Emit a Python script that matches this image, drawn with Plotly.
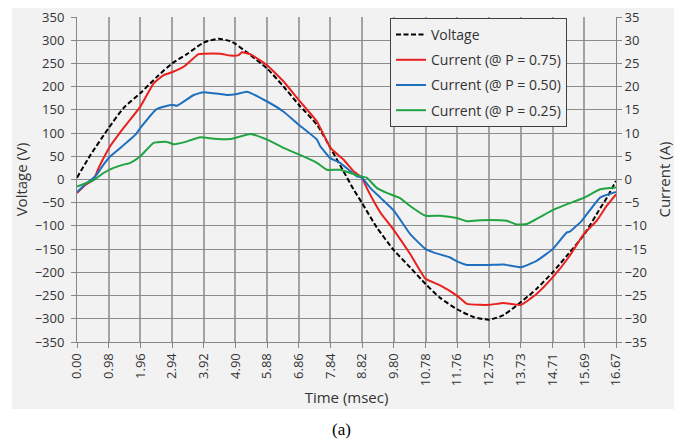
import plotly.graph_objects as go

# ---------------- data ----------------
tick_labels = ["0.00", "0.98", "1.96", "2.94", "3.92", "4.90", "5.88", "6.86", "7.84",
               "8.82", "9.80", "10.78", "11.76", "12.75", "13.73", "14.71", "15.69", "16.67"]

t_voltage = [0.00, 0.41, 0.98, 1.44, 1.96, 2.47, 2.94, 3.40, 3.92, 4.38, 4.74, 4.90, 5.36,
             5.88, 6.39, 6.86, 7.42, 7.84, 8.24, 8.55, 8.81, 9.27, 9.81, 10.30, 10.78, 11.23,
             11.77, 12.26, 12.75, 13.19, 13.73, 14.22, 14.71, 15.20, 15.69, 16.18, 16.40, 16.67]
voltage = [4, 52, 111, 154, 186, 221, 250, 270, 295, 303, 298, 292, 268,
           239, 200, 161, 118, 68, 18, -21, -50, -103, -153, -189, -225, -255,
           -280, -296, -302, -292, -264, -235, -200, -160, -118, -62, -38, -3]

t_i075 = [0.00, 0.26, 0.51, 0.67, 0.88, 1.03, 1.44, 1.96, 2.37, 2.68, 2.94, 3.30, 3.76,
          3.92, 4.43, 4.74, 5.00, 5.10, 5.36, 5.88, 6.39, 6.86, 7.42, 7.84, 8.24, 8.55,
          8.81, 8.96, 9.17, 9.38, 9.81, 10.30, 10.78, 11.23, 11.75, 12.06, 12.47, 12.75,
          13.19, 13.73, 14.22, 14.71, 15.20, 15.69, 16.07, 16.38, 16.67]
i_075 = [-2.9, -1.2, 0.0, 2.5, 5.4, 7.2, 11.1, 15.7, 20.7, 22.5, 23.1, 24.3, 27.0,
         27.1, 27.1, 26.7, 26.8, 27.4, 27.0, 24.6, 21.1, 17.1, 12.5, 6.8, 4.3, 1.8,
         0.4, -1.8, -4.6, -7.1, -11.0, -16.0, -21.4, -22.8, -25.0, -26.8, -27.0, -27.0,
         -26.6, -27.0, -24.6, -21.1, -16.8, -11.6, -8.9, -5.7, -3.2]

t_i050 = [0.00, 0.26, 0.57, 0.82, 1.03, 1.34, 1.80, 1.96, 2.47, 2.94, 3.09, 3.61, 3.92,
          4.43, 4.64, 4.95, 5.25, 5.88, 6.39, 6.86, 7.42, 7.52, 7.83, 8.14, 8.45, 8.65,
          8.81, 9.07, 9.38, 9.81, 10.30, 10.78, 11.02, 11.54, 11.77, 12.06, 12.47, 12.75,
          13.19, 13.73, 14.22, 14.71, 15.15, 15.25, 15.61, 16.18, 16.67]
i_050 = [-2.7, -1.0, 0.7, 3.2, 5.0, 6.8, 9.6, 11.1, 15.2, 16.1, 15.9, 18.2, 18.8,
         18.4, 18.2, 18.4, 18.9, 16.8, 14.6, 11.8, 8.6, 7.2, 4.6, 3.6, 1.8, 0.7,
         0.4, -1.8, -3.9, -6.8, -11.7, -15.0, -15.7, -16.8, -17.7, -18.4, -18.4, -18.4,
         -18.3, -18.9, -17.5, -15.0, -11.4, -11.2, -8.9, -3.9, -2.7]

t_i025 = [0.00, 0.31, 0.51, 0.82, 1.13, 1.44, 1.65, 1.96, 2.37, 2.78, 2.99, 3.30, 3.81,
          4.23, 4.74, 5.36, 5.88, 6.39, 6.86, 7.42, 7.73, 8.14, 8.45, 8.76, 8.96, 9.27,
          9.58, 9.99, 10.30, 10.78, 11.23, 11.75, 12.06, 12.47, 12.75, 13.29, 13.60, 13.91,
          14.71, 15.20, 15.69, 16.18, 16.67]
i_025 = [-1.5, -0.7, -0.2, 1.4, 2.5, 3.2, 3.6, 5.0, 7.9, 8.1, 7.6, 8.0, 9.1,
         8.8, 8.7, 9.8, 8.6, 6.8, 5.4, 3.6, 2.1, 2.1, 1.4, 0.7, 0.4, -1.8,
         -2.9, -4.0, -5.7, -7.8, -7.8, -8.3, -9.0, -8.8, -8.7, -8.9, -9.7, -9.6,
         -6.6, -5.2, -3.9, -2.1, -1.7]

# ---------------- figure ----------------
FONT = "Open Sans"
TXT = "#333333"
fig = go.Figure()

fig.add_trace(go.Scatter(x=t_voltage, y=voltage, name="Voltage", mode="lines",
                         line=dict(color="#000000", width=2, dash="5px,2.5px", shape="spline", smoothing=0.6),
                         legendgroup="a", yaxis="y"))
fig.add_trace(go.Scatter(x=t_i075, y=i_075, name="Current (@ P = 0.75)", mode="lines",
                         line=dict(color="#e8211e", width=2, shape="spline", smoothing=0.4),
                         legendgroup="b", yaxis="y2"))
fig.add_trace(go.Scatter(x=t_i050, y=i_050, name="Current (@ P = 0.50)", mode="lines",
                         line=dict(color="#1f6fbf", width=2, shape="spline", smoothing=0.4),
                         legendgroup="c", yaxis="y2"))
fig.add_trace(go.Scatter(x=t_i025, y=i_025, name="Current (@ P = 0.25)", mode="lines",
                         line=dict(color="#22a443", width=2, shape="spline", smoothing=0.4),
                         legendgroup="d", yaxis="y2"))

tick_vals = [float(s) for s in tick_labels]

# page offset introduced by the default body margin
OFF = 8
W, H = 682 - OFF, 440 - OFF
PL, PR, PT, PB = 77, 616, 17, 342   # plot area in page pixels
pw, ph = PR - PL, PB - PT


def px_x(x):
    return (x - PL) / pw


def px_y(y):
    return (PB - y) / ph


fig.update_layout(
    width=W, height=H,
    autosize=False,
    margin=dict(l=PL - OFF, r=682 - PR, t=PT - OFF, b=440 - PB, pad=0),
    paper_bgcolor="white",
    plot_bgcolor="#f2f2f2",
    font=dict(family=FONT, size=13, color=TXT),
    showlegend=True,
    legend=dict(x=px_x(390), y=px_y(18), xanchor="left", yanchor="top",
                bgcolor="#f2f2f2", bordercolor="#404040", borderwidth=1,
                font=dict(family=FONT, size=14, color=TXT),
                traceorder="grouped", tracegroupgap=4),
    xaxis=dict(range=[0, 16.67], tickmode="array", tickvals=tick_vals, ticktext=tick_labels,
               tickangle=-90, showgrid=True, gridcolor="#a3a3a3", gridwidth=1.5,
               showline=True, linecolor="#868686", linewidth=1, ticks="outside", ticklen=5,
               tickcolor="#868686", zeroline=False, automargin=False,
               tickfont=dict(size=13, color=TXT), ticklabeloverflow="allow",
               title=dict(text="Time (msec)", font=dict(size=15, color=TXT), standoff=7)),
    yaxis=dict(range=[-350, 350], dtick=50, tick0=0, showgrid=True, gridcolor="#8c8c8c", gridwidth=1,
               showline=True, linecolor="#868686", linewidth=1, ticks="outside", ticklen=5,
               tickcolor="#868686", zeroline=False, ticklabelstandoff=4, automargin=False,
               tickfont=dict(size=13, color=TXT), ticklabeloverflow="allow",
               title=dict(text="Voltage (V)", font=dict(size=15, color=TXT), standoff=3)),
    yaxis2=dict(range=[-35, 35], dtick=5, tick0=0, overlaying="y", side="right", showgrid=False,
                showline=True, linecolor="#868686", linewidth=1, ticks="outside", ticklen=5,
                tickcolor="#868686", zeroline=False, automargin=False,
                tickfont=dict(size=13, color=TXT), ticklabeloverflow="allow",
                title=dict(text="Current (A)", font=dict(size=15, color=TXT), standoff=13)),
    shapes=[dict(type="rect", xref="paper", yref="paper", layer="below",
                 x0=px_x(12), x1=px_x(675), y0=px_y(409), y1=px_y(8),
                 fillcolor="#f2f2f2", line=dict(width=0))],
    annotations=[dict(text="(a)", xref="paper", yref="paper", x=px_x(341), y=px_y(429),
                      xanchor="center", yanchor="middle", showarrow=False,
                      font=dict(family="Liberation Serif", size=17, color="#000000"))],
)

fig.write_html("out.html")
